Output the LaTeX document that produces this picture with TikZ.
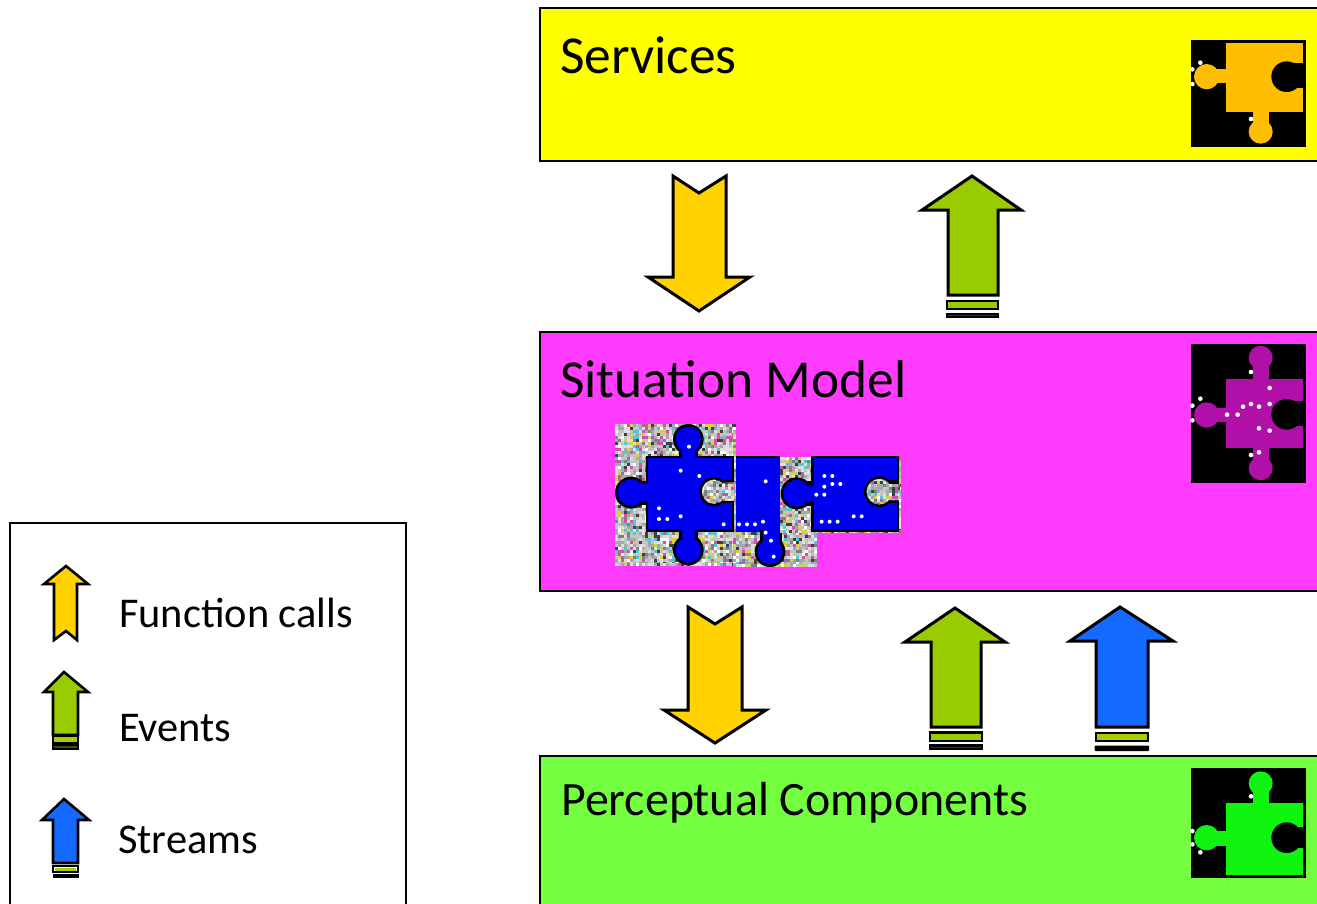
\documentclass[tikz,border=0pt]{standalone}
\usepackage{fontspec}
\setmainfont{Carlito}
\definecolor{fn}{HTML}{FFD200}
\definecolor{ev}{HTML}{99CC00}
\definecolor{st}{HTML}{1469FF}
\definecolor{band}{HTML}{AACC00}
\definecolor{ysvc}{HTML}{FFFF00}
\definecolor{msit}{HTML}{FF3BFF}
\definecolor{gper}{HTML}{73FF40}
\definecolor{pblue}{HTML}{0000F0}
\definecolor{porange}{HTML}{FFBE00}
\definecolor{pmag}{HTML}{B010A8}
\definecolor{pgreen}{HTML}{10F510}
\definecolor{nA}{HTML}{C4C4C4}
\definecolor{nB}{HTML}{DEDEDE}
\definecolor{nC}{HTML}{808080}
\definecolor{nG}{HTML}{A8A8A8}
\definecolor{nK}{HTML}{404040}
\definecolor{nD}{HTML}{D8D040}
\definecolor{nE}{HTML}{50C8D0}
\definecolor{nF}{HTML}{D050B0}
\tikzset{
  layer/.style={draw=black,line width=2.8pt},
  arrowshape/.style={draw=black,line width=3pt,line join=miter,miter limit=6},
  legendarrow/.style={draw=black,line width=2.6pt,line join=miter,miter limit=6},
  heading/.style={anchor=base west,inner sep=0pt,font=\fontsize{53.4}{58}\selectfont},
  headingsmall/.style={anchor=base west,inner sep=0pt,font=\fontsize{47.9}{52}\selectfont},
  legendtext/.style={anchor=base west,inner sep=0pt,font=\fontsize{42.4}{46}\selectfont},
  zoomed/.style={shift={(#1)},x=.33333pt,y=-.33333pt},
}
\newcommand{\noisepatch}[5]{%
  \pgfmathsetseed{#5}%
  \fill[nA] (#1,#2) rectangle (#3,#4);
  \pgfmathtruncatemacro{\nx}{(#3-#1)/9}%
  \pgfmathtruncatemacro{\ny}{(#4-#2)/9}%
  \foreach \ix in {0,...,\nx}{\foreach \iy in {0,...,\ny}{%
    \pgfmathtruncatemacro{\rr}{random(1,14)}%
    \ifcase\rr\or\def\cc{nB}\or\def\cc{nB}\or\def\cc{nB}\or\def\cc{nA}\or\def\cc{nA}\or\def\cc{nA}\or\def\cc{nG}\or\def\cc{nG}\or\def\cc{nC}\or\def\cc{nK}\or\def\cc{nD}\or\def\cc{nE}\or\def\cc{nF}\or\def\cc{white}\fi
    \pgfmathsetmacro{\xa}{min(#1+\ix*9,#3-9)}%
    \pgfmathsetmacro{\ya}{min(#2+\iy*9,#4-9)}%
    \fill[\cc] (\xa,\ya) rectangle ++(9,9);
  }}%
}
\newcommand{\dotlist}[2]{\foreach \p in {#2}{\fill[white] \p circle (#1);}}
\begin{document}
\begin{tikzpicture}[x=1pt,y=-1pt]
\useasboundingbox (0,0) rectangle (1317,903);
\clip (0,0) rectangle (1317,903);
\fill[white] (0,0) rectangle (1317,903);

% layers
\draw[layer,fill=ysvc] (540,8) rectangle (1340,161);
\draw[layer,fill=msit] (540,332) rectangle (1340,591);
\draw[layer,fill=gper] (540,756) rectangle (1340,930);
\node[heading] (svc) at (560,73) {Services};
\node[heading] (sit) at (560,397) {Situation Model};
\node[headingsmall] (per) at (561,815) {Perceptual Components};

% legend
\draw[line width=2.4pt] (10,930) -- (10,523) -- (406,523) -- (406,930);
\node[legendtext] (lf) at (119,627) {Function calls};
\node[legendtext] (le) at (119,741) {Events};
\node[legendtext] (ls) at (118,853) {Streams};

% down arrows
\draw[arrowshape,fill=fn] (673,176) -- (699,193) -- (726,176) -- (726,277) -- (750,277) -- (699,311) -- (648,277) -- (673,277) -- cycle;
\draw[arrowshape,fill=fn] (688,607) -- (715,624) -- (742,607) -- (742,710) -- (766,710) -- (715,743) -- (664,710) -- (688,710) -- cycle;

% up arrow 1
\draw[arrowshape,fill=ev] (972,176) -- (1021,210) -- (998,210) -- (998,295) -- (948,295) -- (948,210) -- (922,210) -- cycle;
\draw[line width=2.6pt,fill=ev] (947,301) rectangle (998,309);
\draw[line width=2.6pt,fill=ev!30!black] (947,314) rectangle (998,317);
% up arrow 2
\draw[arrowshape,fill=ev] (955,608) -- (1005,642) -- (981,642) -- (981,727) -- (931,727) -- (931,642) -- (905,642) -- cycle;
\draw[line width=2.6pt,fill=ev] (930,732.5) rectangle (982,741);
\draw[line width=2.6pt,fill=ev!30!black] (930,745.5) rectangle (982,749);
% up arrow 3
\draw[arrowshape,fill=st] (1120,607) -- (1173,641) -- (1148,641) -- (1148,727) -- (1096,727) -- (1096,641) -- (1070,641) -- cycle;
\draw[line width=2.6pt,fill=band] (1096,733) rectangle (1148,741);
\fill[black,rounded corners=1pt] (1094.5,745.5) rectangle (1149,751);

% legend arrows
\draw[legendarrow,fill=fn] (66,566) -- (88,584) -- (77,584) -- (77,640) -- (66,631) -- (54,640) -- (54,584) -- (44,584) -- cycle;
\draw[legendarrow,fill=ev] (64,672) -- (88,692) -- (78,692) -- (78,735) -- (53,735) -- (53,692) -- (44,692) -- cycle;
\draw[line width=2pt,fill=band] (53,736) rectangle (78,743);
\draw[line width=2pt,fill=ev!40!black] (53,745) rectangle (78,749);
\draw[legendarrow,fill=st] (64,799) -- (89,820) -- (78,820) -- (78,863) -- (53,863) -- (53,820) -- (42,820) -- cycle;
\draw[line width=2pt,fill=white] (53,866) rectangle (78,872);
\fill[band] (55,868) rectangle (76,870.5);
\fill[black] (52.5,874) rectangle (78.5,878);

% Services piece
\begin{scope}[zoomed={1170,20}]
\fill[black] (63,60) rectangle (408,382);
\fill[porange] (168,68) rectangle (400,275);
\fill[porange] (110,170) circle (38);
\fill[porange] (130,148) rectangle (170,190);
\fill[porange] (272,335) circle (36);
\fill[porange] (250,270) rectangle (298,310);
\fill[black] (350,170) circle (46);
\fill[black] (360,130) rectangle (402,205);
\dotlist{7}{(91,128),(67,148),(67,192),(243,297)}
\end{scope}

% Situation piece
\begin{scope}[zoomed={1170,335}]
\fill[black] (63,27) rectangle (408,443);
\fill[pmag] (168,132) rectangle (400,340);
\fill[pmag] (110,240) circle (38);
\fill[pmag] (130,218) rectangle (170,260);
\fill[pmag] (272,68) circle (36);
\fill[pmag] (250,95) rectangle (298,135);
\fill[pmag] (272,400) circle (36);
\fill[pmag] (250,335) rectangle (298,375);
\fill[black] (350,238) circle (46);
\fill[black] (360,198) rectangle (402,272);
\dotlist{7}{(91,191),(67,212),(67,256),(243,111),(243,360),(299,159),(219,215),(243,207),(267,215),(299,207),(171,239),(203,239),(267,280),(299,287),(267,352)}
\end{scope}

% Perceptual piece
\begin{scope}[zoomed={1170,755}]
\fill[black] (63,40) rectangle (408,370);
\fill[pgreen] (168,143) rectangle (400,360);
\fill[pgreen] (110,248) circle (38);
\fill[pgreen] (130,228) rectangle (170,272);
\fill[pgreen] (272,85) circle (36);
\fill[pgreen] (250,110) rectangle (298,146);
\fill[black] (350,248) circle (46);
\fill[black] (360,215) rectangle (402,280);
\dotlist{7}{(243,124),(67,228),(67,268),(91,292)}
\end{scope}

% Blue pieces
\begin{scope}[zoomed={600,410}]
\noisepatch{45}{42}{407}{467}{11}
\fill[black] (137,137) rectangle (403,366);
\fill[black] (265,88) circle (46);
\fill[black] (93,248) circle (48);
\fill[black] (265,420) circle (46);
\fill[black] (238,120) rectangle (295,150);
\fill[black] (120,212) rectangle (150,284);
\fill[black] (238,355) rectangle (295,385);
\fill[pblue] (145,145) rectangle (395,358);
\fill[pblue] (93,248) circle (40);
\fill[pblue] (265,88) circle (38);
\fill[pblue] (265,420) circle (38);
\fill[pblue] (120,222) rectangle (150,274);
\fill[pblue] (247,120) rectangle (286,150);
\fill[pblue] (247,355) rectangle (286,385);
\fill[black] (342,245) circle (44);
\fill[black] (360,210) rectangle (402,280);
\begin{scope}
  \clip (342,245) circle (36) (404,218) rectangle (370,272);
  \noisepatch{295}{205}{410}{285}{21}
\end{scope}
% middle piece
\noisepatch{408}{140}{652}{472}{31}
\fill[black] (408,137) rectangle (540,143);
\fill[pblue] (408,143) rectangle (540,365);
\fill[black] (510,425) circle (46);
\fill[black] (480,360) rectangle (545,400);
\fill[pblue] (510,425) circle (38);
\fill[pblue] (490,355) rectangle (536,400);
% right piece
\noisepatch{540}{140}{902}{368}{41}
\fill[black] (634,137) rectangle (898,366);
\fill[black] (590,250) circle (48);
\fill[black] (620,212) rectangle (650,288);
\fill[pblue] (642,145) rectangle (890,358);
\fill[pblue] (590,250) circle (40);
\fill[pblue] (615,228) rectangle (650,272);
\fill[black] (838,245) circle (46);
\fill[black] (860,210) rectangle (892,280);
\begin{scope}
  \clip (838,245) circle (38) (902,222) rectangle (860,270);
  \noisepatch{795}{205}{902}{288}{51}
\end{scope}
\dotlist{6}{(267,110),(242,182),(298,198),(177,295),(177,327),(202,327),(242,319),(371,343),(497,214),(417,343),(441,343),(465,343),(489,335),(497,368),(513,392),(521,440),(673,198),(697,198),(697,222),(721,222),(673,230),(649,254),(673,254),(665,335),(689,335),(713,335),(761,319),(785,319)}
\end{scope}
\end{tikzpicture}
\end{document}
